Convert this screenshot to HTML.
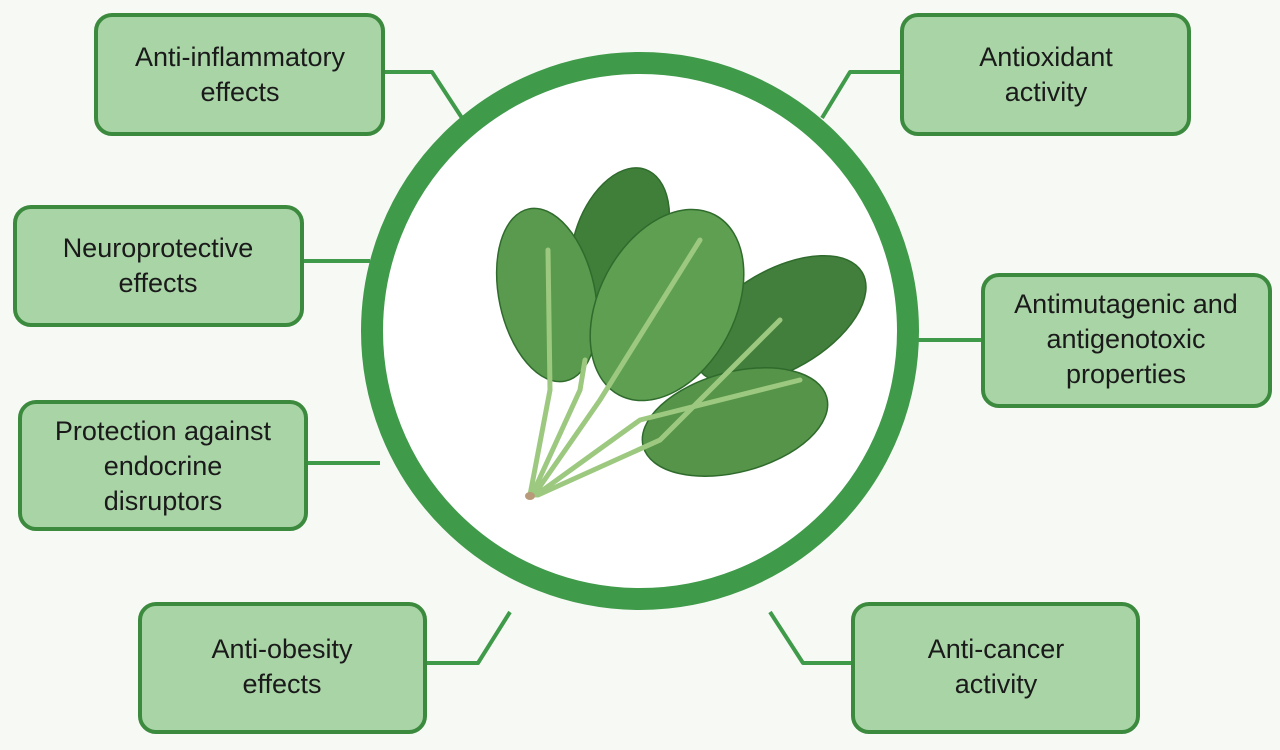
<!DOCTYPE html>
<html><head><meta charset="utf-8"><style>
body{margin:0;width:1280px;height:745px;background:#f7f9f5;overflow:hidden;font-family:"Liberation Sans",sans-serif}
</style></head><body>
<svg width="1280" height="745" viewBox="0 0 1280 745" xmlns="http://www.w3.org/2000/svg">
<rect width="1280" height="745" fill="#f7f9f5"/>
<g stroke="#3f9a4a" stroke-width="4" fill="none" stroke-linejoin="round">
<polyline points="383,72 432,72 462,118"/>
<polyline points="902,72 850,72 822,118"/>
<polyline points="302,261 370,261"/>
<polyline points="983,340 916,340"/>
<polyline points="306,463 380,463"/>
<polyline points="425,663 478,663 510,612"/>
<polyline points="853,663 803,663 770,612"/>
</g>
<circle cx="640" cy="331" r="268" fill="#fff" stroke="#3f9a4a" stroke-width="22"/>
<g fill="#a9d4a6" stroke="#3b8a3e" stroke-width="4">
<rect x="96" y="15" width="287" height="119" rx="16"/>
<rect x="902" y="15" width="287" height="119" rx="16"/>
<rect x="15" y="207" width="287" height="118" rx="16"/>
<rect x="983" y="275" width="287" height="131" rx="16"/>
<rect x="20" y="402" width="286" height="127" rx="16"/>
<rect x="140" y="604" width="285" height="128" rx="16"/>
<rect x="853" y="604" width="285" height="128" rx="16"/>
</g>
<g font-size="27" fill="#1a1a1a" text-anchor="middle" font-family="Liberation Sans,sans-serif">
<text x="240" y="66">Anti-inflammatory</text><text x="240" y="101">effects</text>
<text x="1046" y="66">Antioxidant</text><text x="1046" y="101">activity</text>
<text x="158" y="257">Neuroprotective</text><text x="158" y="292">effects</text>
<text x="1126" y="313">Antimutagenic and</text><text x="1126" y="348">antigenotoxic</text><text x="1126" y="383">properties</text>
<text x="163" y="440">Protection against</text><text x="163" y="475">endocrine</text><text x="163" y="510">disruptors</text>
<text x="282" y="658">Anti-obesity</text><text x="282" y="693">effects</text>
<text x="996" y="658">Anti-cancer</text><text x="996" y="693">activity</text>
</g>
<g stroke="#2f6b2c" stroke-width="1.5">
<ellipse cx="620" cy="240" rx="45" ry="75" transform="rotate(20 620 240)" fill="#3f7f3a"/>
<ellipse cx="780" cy="320" rx="50" ry="95" transform="rotate(60 780 320)" fill="#437f3c"/>
<ellipse cx="547" cy="295" rx="48" ry="88" transform="rotate(-12 547 295)" fill="#5a9a4e"/>
<ellipse cx="667" cy="305" rx="68" ry="102" transform="rotate(28 667 305)" fill="#5f9f52"/>
<ellipse cx="735" cy="422" rx="95" ry="50" transform="rotate(-15 735 422)" fill="#559449"/>
</g>
<g stroke="#9cc97f" stroke-width="5" fill="none" stroke-linecap="round">
<path d="M530,495 L550,390 L548,250"/>
<path d="M532,495 L580,390 L585,360"/>
<path d="M534,495 L600,400 L700,240"/>
<path d="M536,495 L640,420 L800,380"/>
<path d="M538,495 L660,440 L780,320"/>
</g>
<ellipse cx="530" cy="496" rx="5" ry="4" fill="#b89a7a"/>
</svg>
</body></html>
